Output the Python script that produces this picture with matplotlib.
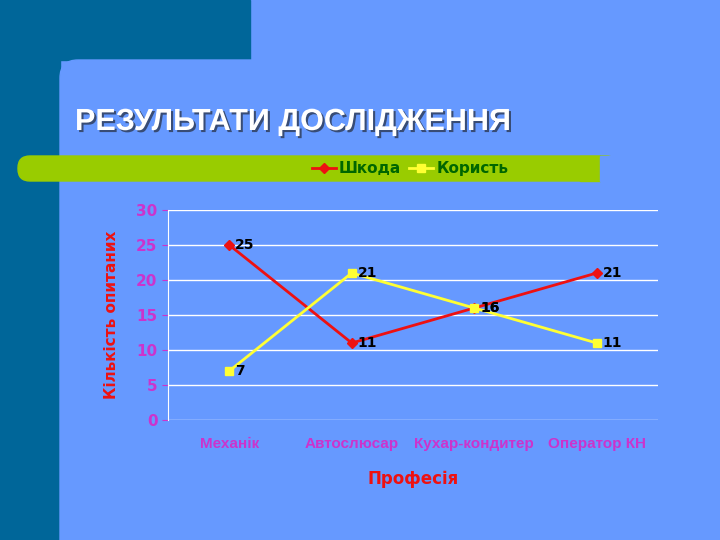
import matplotlib
matplotlib.use("Agg")
import matplotlib.pyplot as plt
from matplotlib.patches import Rectangle, FancyBboxPatch
import matplotlib.patheffects as pe

categories = ["Механік", "Автослюсар", "Кухар-кондитер", "Оператор КН"]
shkoda = [25, 11, 16, 21]
koryst = [7, 21, 16, 11]
yticks = [0, 5, 10, 15, 20, 25, 30]

W, H = 720, 540
fig = plt.figure(figsize=(7.2, 5.4), dpi=100)
fig.patch.set_facecolor("#6699FF")
bg = fig.add_axes([0, 0, 1, 1])
bg.set_xlim(0, W); bg.set_ylim(H, 0); bg.axis("off")
dark = "#006699"
bg.add_patch(Rectangle((0, 0), 250, 60, color=dark))
bg.add_patch(Rectangle((0, 0), 60, H, color=dark))
bg.add_patch(FancyBboxPatch((60, 60), 700, 520, boxstyle="round,pad=0,rounding_size=18",
                            color="#6699FF"))
bg.add_patch(FancyBboxPatch((18, 156), 600, 25, boxstyle="round,pad=0,rounding_size=12",
                            color="#99CC00"))
bg.add_patch(Rectangle((580, 156), 20, 25, color="#99CC00"))
bg.add_patch(Rectangle((600, 156), 30, 25, color="#6699FF"))
bg.text(75, 122, "РЕЗУЛЬТАТИ ДОСЛІДЖЕННЯ", color="white", fontsize=22, fontweight="bold",
        va="center", ha="left", family="Liberation Sans",
        path_effects=[pe.SimplePatchShadow(offset=(1.5, -1.5), shadow_rgbFace="#334466", alpha=0.9), pe.Normal()])

ax = fig.add_axes([168 / W, 1 - 420 / H, 490 / W, 210 / H])
ax.set_facecolor("#6699FF")
x = range(len(categories))
l1, = ax.plot(x, shkoda, color="#EE1111", lw=2, marker="D", ms=5, label="Шкода")
l2, = ax.plot(x, koryst, color="#FFFF33", lw=2, marker="s", ms=6, label="Користь")
for xi, v in zip(x, shkoda):
    ax.text(xi + 0.05, v, str(v), fontsize=10, fontweight="bold", color="black", va="center")
for xi, v in zip(x, koryst):
    ax.text(xi + 0.05, v, str(v), fontsize=10, fontweight="bold", color="black", va="center")
ax.set_xlim(-0.5, 3.5)
ax.set_ylim(0, 30)
ax.set_yticks(yticks)
ax.set_xticks(list(x))
ax.set_xticklabels(categories, color="#CC33CC", fontsize=11, fontweight="bold", family="Liberation Sans")
ax.tick_params(axis="y", colors="#CC33CC", labelsize=11, length=4)
ax.tick_params(axis="x", length=0, pad=12)
for lab in ax.get_yticklabels():
    lab.set_fontweight("bold")
ax.grid(axis="y", color="white", lw=1)
for s in ["top", "right", "bottom"]:
    ax.spines[s].set_visible(False)
ax.spines["left"].set_color("white")
ax.set_xlabel("Професія", color="#EE1111", fontsize=12, fontweight="bold", labelpad=14)
ax.set_ylabel("Кількість опитаних", color="#EE1111", fontsize=11, fontweight="bold")
ax.yaxis.set_label_coords(-0.1, 0.5)
fig.legend(handles=[l1, l2], loc="center", bbox_to_anchor=(410 / W, 1 - 169 / H), ncol=2,
           frameon=False, handlelength=1.6, columnspacing=0.5, handletextpad=0.2,
           prop={"weight": "bold", "size": 11},
           labelcolor="#006600")
fig.savefig("out.png", dpi=100, facecolor=fig.get_facecolor())
